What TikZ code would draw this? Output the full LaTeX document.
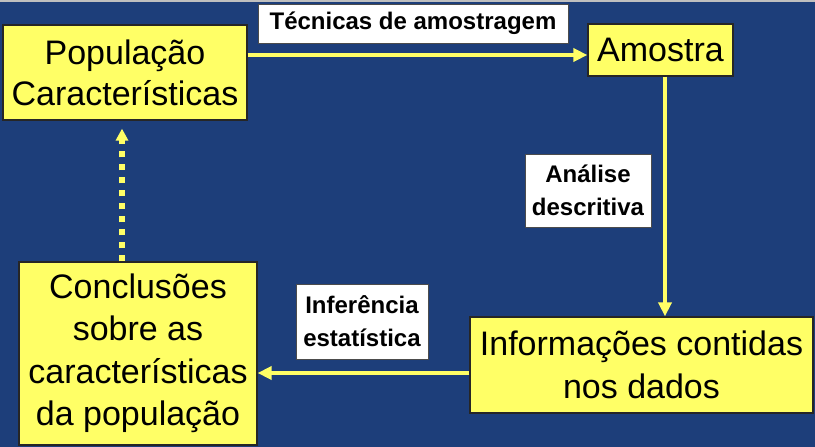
\documentclass[tikz,border=0pt]{standalone}
\usepackage{fontspec}
\setmainfont{Liberation Sans}
\usetikzlibrary{arrows.meta}
\definecolor{bgblue}{RGB}{29,62,122}
\definecolor{boxyellow}{RGB}{255,255,102}
\begin{document}
\begin{tikzpicture}[x=1pt,y=-1pt,
 ybox/.style={draw=black!85, line width=1.2pt, fill=boxyellow, inner sep=0pt, align=center, font=\fontsize{34}{41}\selectfont},
 lbox/.style={draw=black!70, line width=1pt, fill=white, inner sep=0pt, align=center, font=\fontsize{24}{33}\selectfont\bfseries},
 flow/.style={draw=boxyellow, line width=4.5pt, -{Triangle[length=14pt,width=13pt]}},
 dotflow/.style={draw=boxyellow, line width=6.5pt, dash pattern=on 6.5pt off 6.5pt, -{Triangle[length=12pt,width=12pt]}}
]
\fill[bgblue] (0,0) rectangle (815,447);
\fill[black!25] (0,0) rectangle (815,1.5);
\useasboundingbox (0,0) rectangle (815,447);

\node[ybox, minimum width=244pt, minimum height=95pt] (pop) at (125,72.5) {População\\Características};
\node[ybox, minimum width=145pt, minimum height=52pt] (amo) at (660.5,50) {Amostra};
\node[ybox, minimum width=343pt, minimum height=96pt, font=\fontsize{34}{43}\selectfont] (info) at (641.5,365) {Informações contidas\\nos dados};
\node[ybox, minimum width=238pt, minimum height=183pt, font=\fontsize{34}{42.5}\selectfont] (conc) at (138,353.5) {Conclusões\\sobre as\\características\\da população};

\node[lbox, minimum width=310pt, minimum height=39pt] (tec) at (413,23.5) {Técnicas de amostragem};
\node[lbox, minimum width=126pt, minimum height=73pt] (ana) at (588,190.5) {Análise\\descritiva};
\node[lbox, minimum width=132pt, minimum height=75pt] (inf) at (362,321.5) {Inferência\\estatística};

\draw[flow] (pop.east |- 0,55) -- (amo.west |- 0,55);
\draw[flow] (amo.south -| 665,0) -- (info.north -| 665,0);
\draw[flow] (info.west |- 0,373) -- (conc.east |- 0,373);
\draw[dotflow] (conc.north -| 122,0) -- ([yshift=-8pt]pop.south -| 122,0);
\end{tikzpicture}
\end{document}
